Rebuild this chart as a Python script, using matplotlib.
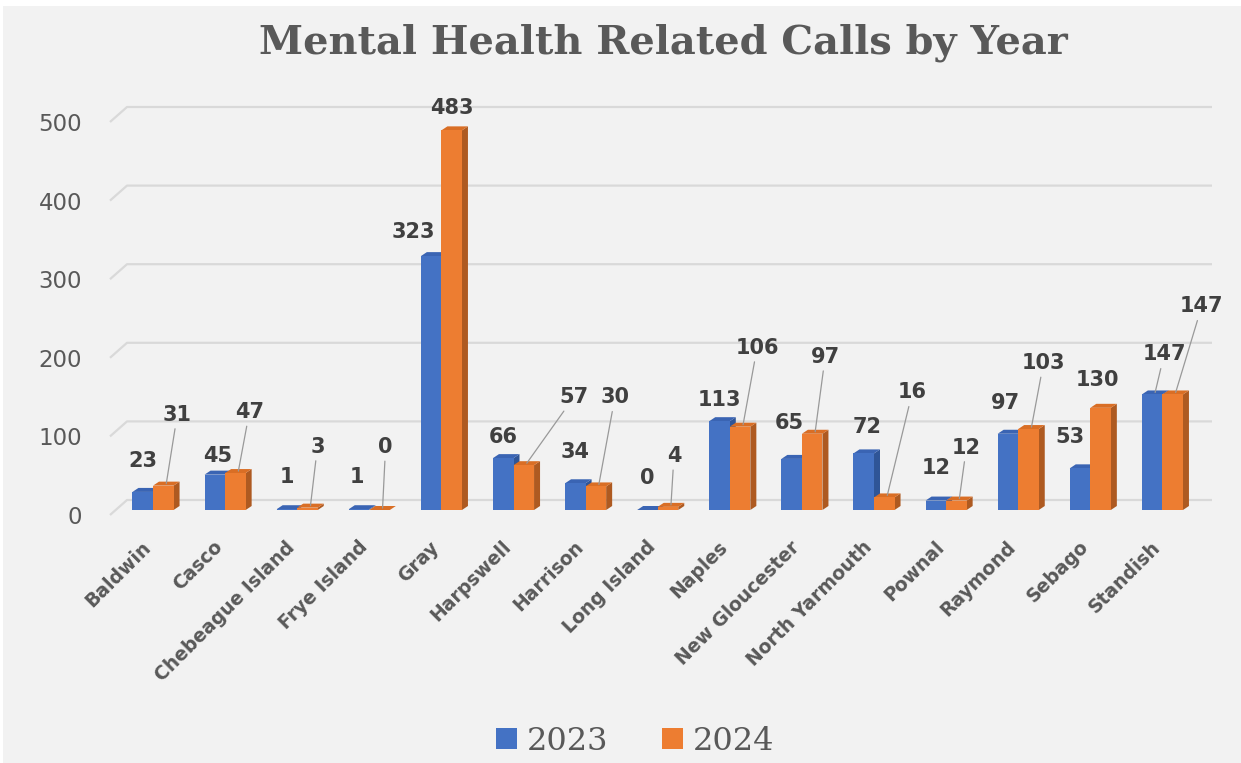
import numpy as np
import matplotlib
matplotlib.use('Agg')
import matplotlib.pyplot as plt
from matplotlib.patches import Polygon, Patch, Rectangle
from matplotlib.transforms import ScaledTranslation

# ---------------- data ----------------
towns = ['Baldwin', 'Casco', 'Chebeague Island', 'Frye Island', 'Gray', 'Harpswell',
         'Harrison', 'Long Island', 'Naples', 'New Gloucester', 'North Yarmouth',
         'Pownal', 'Raymond', 'Sebago', 'Standish']
calls_2023 = [23, 45, 1, 1, 323, 66, 34, 0, 113, 65, 72, 12, 97, 53, 147]
calls_2024 = [31, 47, 3, 0, 483, 57, 30, 4, 106, 97, 16, 12, 103, 130, 147]
years = ['2023', '2024']
yticks = [0, 100, 200, 300, 400, 500]

# data-label placement (pixel offsets of label centre from bar top, y down)
off_2023 = [(0, -31), (3, -19), (0, -32), (-2, -32), (-18, -24), (0, -21), (0, -31),
            (0, -32), (0, -21), (-2, -36), (3, -26), (0, -33), (-2, -31), (-10, -31), (12, -40)]
off_2024 = [(14, -71), (14, -61), (10, -61), (6, -63), (0, -22), (50, -68), (19, -89),
            (6, -51), (17, -79), (13, -77), (28, -105), (10, -53), (15, -66), (-3, -28), (29, -88)]

# ---------------- style ----------------
BG = '#f2f2f2'
BLUE, BLUE_SIDE, BLUE_TOP = '#4472C4', '#2F5597', '#3A64B3'
ORANGE, ORANGE_SIDE, ORANGE_TOP = '#ED7D31', '#AE5A21', '#D96E25'
GRID = '#d9d9d9'
TXT = '#595959'
LBL = '#404040'

W, H = 1241, 763
fig = plt.figure(figsize=(W / 100, H / 100), dpi=100, facecolor=BG)

# axes geometry in pixels
L, R, T, B = 100, 1225, 95, 540
X0, XS = 153.0, 72.1      # pixel of category 0, pixels per category
Y0, YS = 510.0, 0.786     # pixel of value 0 (bar plane), pixels per unit
ax = fig.add_axes([L / W, 1 - B / H, (R - L) / W, (B - T) / H])
ax.set_xlim((L - X0) / XS, (R - X0) / XS)
ax.set_ylim((Y0 - B) / YS, (Y0 - T) / YS)
ax.set_facecolor('none')
for s in ax.spines.values():
    s.set_visible(False)

pxx = 1 / XS   # one pixel in x data units
pxy = 1 / YS   # one pixel in y data units

# 3D-look gridlines: diagonal from front-left, then horizontal on back wall
x_fl = (110 - X0) / XS
x_r = (1212 - X0) / XS
for v in yticks:
    ax.plot([x_fl, x_fl + 17 * pxx, x_r],
            [v - 5 * pxy, v + 10 * pxy, v + 10 * pxy],
            color=GRID, lw=1.6, zorder=1, solid_capstyle='butt')

# y tick labels on the front plane
ax.set_yticks([v - 5 * pxy for v in yticks], labels=[str(v) for v in yticks])
ax.tick_params(axis='y', length=0, pad=13, labelsize=16.5, labelcolor=TXT)
for t in ax.get_yticklabels():
    t.set_fontfamily('DejaVu Sans')

# x tick labels
x = np.arange(len(towns))
ax.set_xticks(x, labels=towns)
ax.tick_params(axis='x', length=0, pad=3)
shift = ScaledTranslation(-5 / 100, 0, fig.dpi_scale_trans)
for t in ax.get_xticklabels():
    t.set_rotation(45)
    t.set_ha('right')
    t.set_va('center')
    t.set_rotation_mode('anchor')
    t.set_fontsize(13.5)
    t.set_fontweight('bold')
    t.set_color(TXT)
    t.set_fontfamily('DejaVu Sans')
    t.set_transform(t.get_transform() + shift)

wb = 0.285
ddx, ddy = 6 * pxx, 4 * pxy


def draw_series(xs0, vals, front, side, top, z):
    ax.bar(xs0, vals, width=wb, align='edge', color=front, zorder=z + 1, linewidth=0)
    for x0, h in zip(xs0, vals):
        x1 = x0 + wb
        ax.add_patch(Polygon([(x1, 0), (x1 + ddx, ddy), (x1 + ddx, h + ddy), (x1, h)],
                             closed=True, facecolor=side, edgecolor='none', zorder=z))
        ax.add_patch(Polygon([(x0, h), (x1, h), (x1 + ddx, h + ddy), (x0 + ddx, h + ddy)],
                             closed=True, facecolor=top, edgecolor='none', zorder=z))


x_blue = x - wb
x_orange = x + 0.0
draw_series(x_blue, calls_2023, BLUE, BLUE_SIDE, BLUE_TOP, 2)
draw_series(x_orange, calls_2024, ORANGE, ORANGE_SIDE, ORANGE_TOP, 4)


def label_series(xs0, vals, offs):
    for x0, h, (dx, dy) in zip(xs0, vals, offs):
        xy = (x0 + wb / 2 + ddx / 2, h + ddy / 2)
        lead = np.hypot(dx, dy) > 38
        kw = {}
        if lead:
            kw['arrowprops'] = dict(arrowstyle='-', color='#999999', lw=0.9,
                                    shrinkA=1, shrinkB=0)
        ax.annotate(str(h), xy=xy, xytext=(dx - 3, -dy - 2), textcoords='offset pixels',
                    ha='center', va='center', fontsize=15, fontweight='bold',
                    color=LBL, family='DejaVu Sans', zorder=10, annotation_clip=False, **kw)


label_series(x_blue, calls_2023, off_2023)
label_series(x_orange, calls_2024, off_2024)

# title
fig.text(663 / W, 1 - 53 / H, 'Mental Health Related Calls by Year', ha='center',
         va='baseline', fontsize=28.7, fontweight='bold', family='DejaVu Serif', color=TXT)

# legend
handles = [Patch(facecolor=BLUE, edgecolor='none', label=years[0]),
           Patch(facecolor=ORANGE, edgecolor='none', label=years[1])]
fig.legend(handles=handles, loc='center', bbox_to_anchor=(635 / W, 1 - 741 / H), ncol=2,
           frameon=False, prop={'family': 'DejaVu Serif', 'size': 23},
           handlelength=0.66, handleheight=0.66, handletextpad=0.3, columnspacing=1.7,
           labelcolor=TXT)

# white margins at the top and left edge of the picture
fig.add_artist(Rectangle((0, 1 - 6 / H), 1, 6 / H, transform=fig.transFigure,
                         facecolor='white', edgecolor='none', zorder=-5))
fig.add_artist(Rectangle((0, 0), 3 / W, 1, transform=fig.transFigure,
                         facecolor='white', edgecolor='none', zorder=-5))

fig.savefig('out.png', dpi=100, facecolor=BG)
